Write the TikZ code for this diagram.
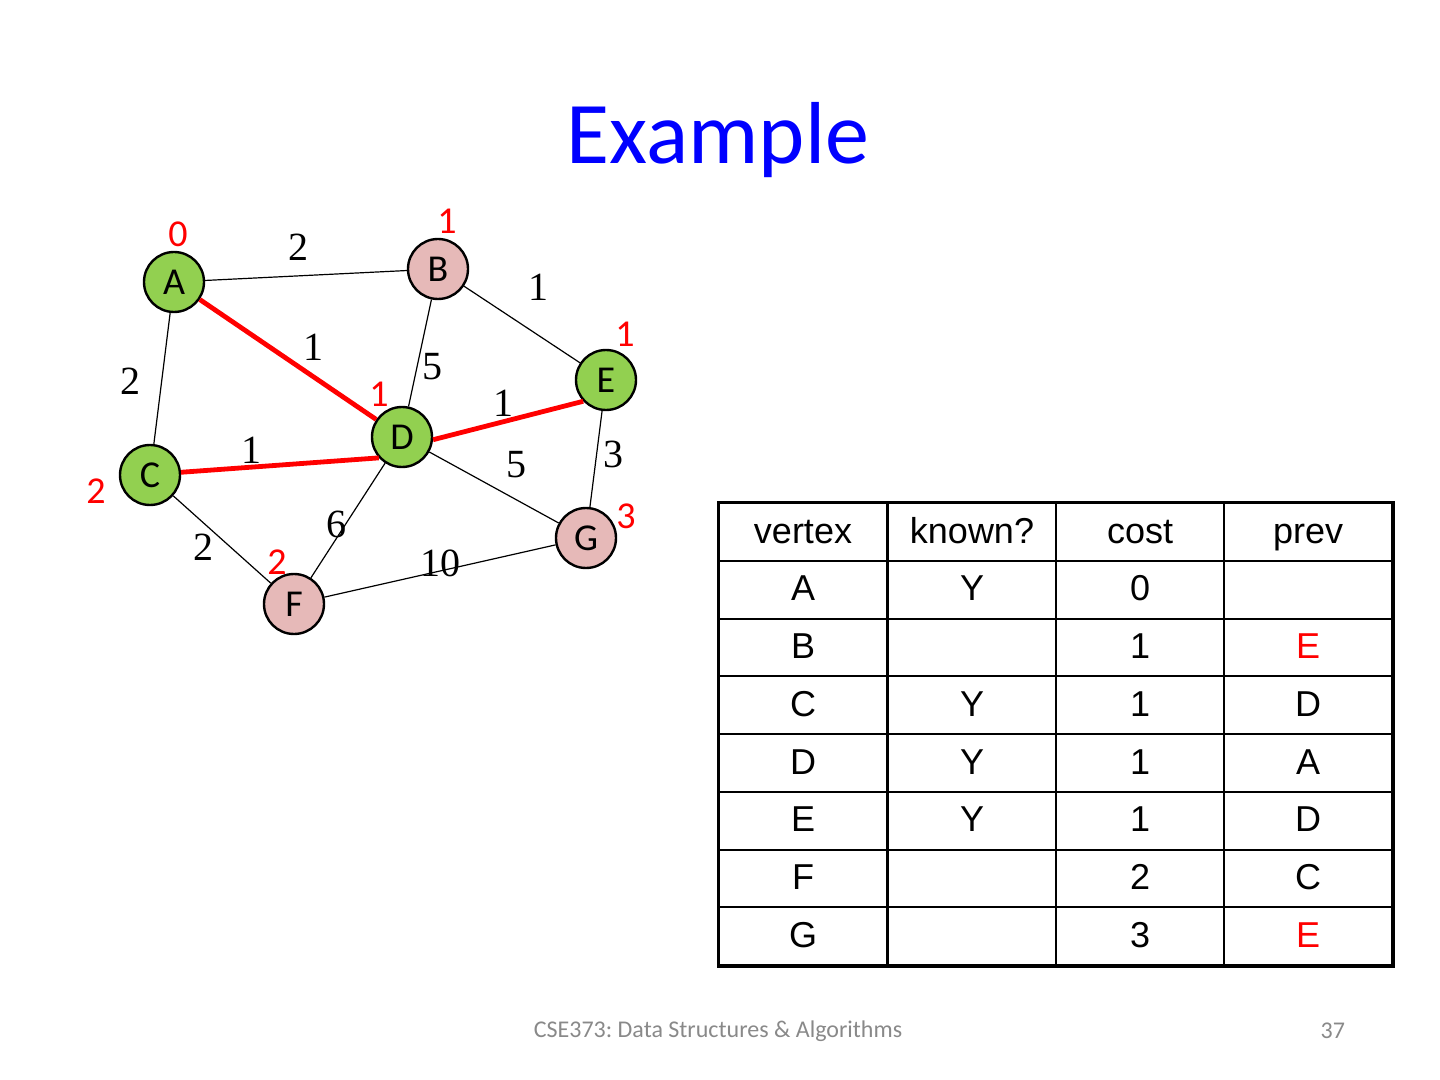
\documentclass[tikz,border=0pt]{standalone}
\usepackage{fontspec}
\setmainfont{Carlito}
\newfontfamily\arialfont{Liberation Sans}
\newfontfamily\timesfont{Liberation Serif}
\usetikzlibrary{positioning}
\definecolor{knowngreen}{RGB}{146,208,80}
\definecolor{unknownpink}{RGB}{230,185,184}
\definecolor{footgray}{RGB}{137,137,137}
\frenchspacing
\tikzset{
	vtx/.style={circle,draw=black,line width=1.2pt,minimum size=30pt,inner sep=0pt,font=\fontsize{19}{19}\selectfont},
	known/.style={vtx,fill=knowngreen},
	unknown/.style={vtx,fill=unknownpink},
	edge/.style={line width=0.6pt},
	pathedge/.style={red,line width=2.4pt},
	wt/.style={font=\timesfont\fontsize{20}{20}\selectfont},
	dist/.style={red,font=\fontsize{19}{19}\selectfont},
	cell/.style={draw,line width=0.9pt,minimum width=84pt,minimum height=28.875pt,inner sep=0pt,text height=13pt,text depth=2pt,font=\arialfont\fontsize{18}{18}\selectfont}
}

\begin{document}
\begin{tikzpicture}[x=0.5pt,y=-0.5pt]
				\useasboundingbox (0,0) rectangle (1440,1080);
				\node[blue,font=\fontsize{44}{44}\selectfont] (title) at (718,140) {Example};
				\foreach\n\x\y\d in {A/178/234/0, B/447/221/1, E/625/334/1, D/379/394/1, C/96/491/2, G/626/516/3, F/277/562/2}
				{\node[dist] (d\n) at (\x,\y) {\d};}
				\foreach\n\x\y\w in {AB/298/247/2, BE/538/287/1, AD/313/347/1, BD/432/367/5, AC/130/381/2, DE/503/403/1, CD/251/450/1, EG/613/454/3, DG/516/465/5, DF/336/524/6, CF/203/547/2, FG/440/563/10}
				{\node[wt] (w\n) at (\x,\y) {\w};}
				\node[known] (A) at (174,282) {A};
				\node[unknown] (B) at (438,269) {B};
				\node[known] (C) at (150,475) {C};
				\node[known] (D) at (402,437) {D};
				\node[known] (E) at (606,380) {E};
				\node[unknown] (F) at (294,604) {F};
				\node[unknown] (G) at (586,538) {G};
				\foreach\u\v in {A/B, A/C, B/E, B/D, D/G, D/F, E/G, C/F, F/G}
				{\draw[edge] (\u) -- (\v);}
				\draw[pathedge] (A) -- (D);
				\draw[pathedge] (D.355) -- (E.223);
				\draw[pathedge] (C.5) -- (D.222);
				\foreach\v/\k/\c/\p [count=\r from 0] in {vertex/known?/cost/prev, A/Y/0/{}, B/{}/1/\textcolor{red}{E}, C/Y/1/D, D/Y/1/A, E/Y/1/D, F/{}/2/C, G/{}/3/\textcolor{red}{E}}
				{
				\node[cell] (v\r) at (803,532+57.75*\r) {\v};
				\node[cell] (k\r) at (972,532+57.75*\r) {\k};
				\node[cell] (c\r) at (1140,532+57.75*\r) {\c};
				\node[cell] (p\r) at (1308,532+57.75*\r) {\p};
				}
				\draw[line width=1.6pt] (v0.north west) rectangle (p7.south east);
				\node[footgray,font=\fontsize{12}{12}\selectfont] (footer) at (718,1031) {CSE373: Data Structures \& Algorithms};
				\node[footgray,font=\fontsize{12}{12}\selectfont,anchor=east] (page) at (1352,1031) {37};
	\end{tikzpicture}
\end{document}
